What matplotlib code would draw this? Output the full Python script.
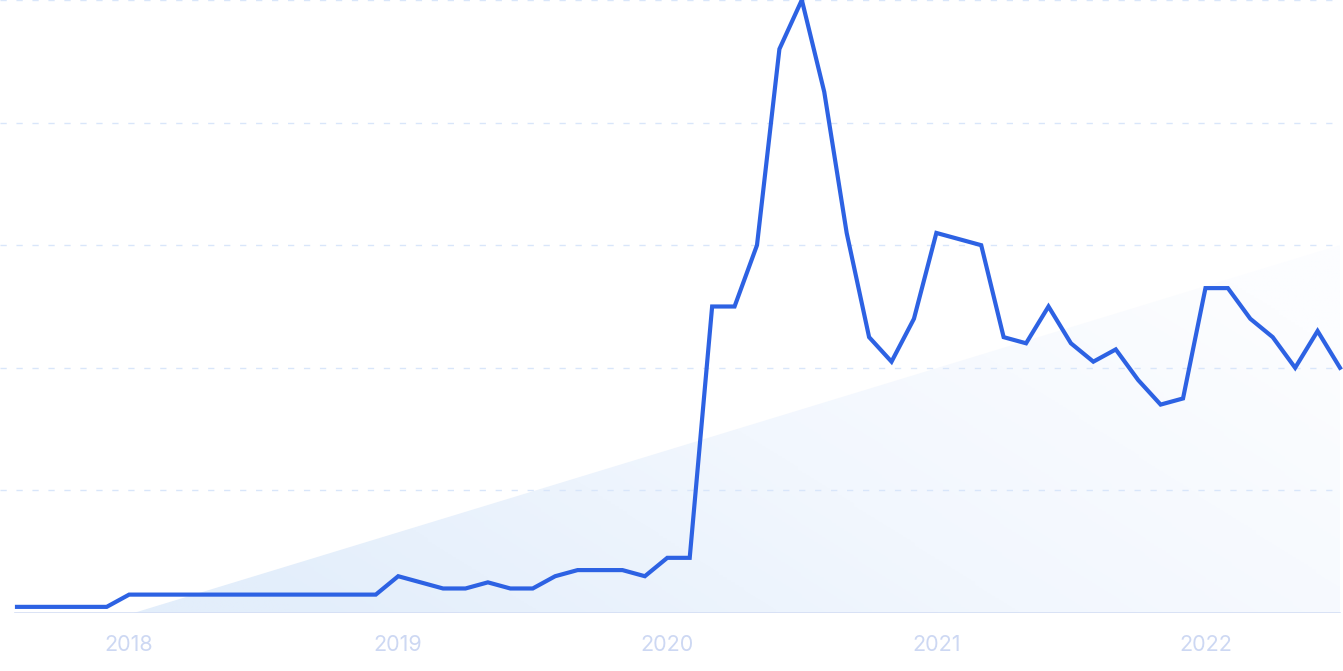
import numpy as np
import matplotlib
matplotlib.use("Agg")
import matplotlib.pyplot as plt
from matplotlib.colors import LinearSegmentedColormap
from matplotlib.patches import Polygon

# Interés mensual (0-100), de ago 2017 a jul 2022
valores = [1, 1, 1, 1, 1,
           3, 3, 3, 3, 3, 3, 3, 3, 3, 3, 3, 3,
           6, 5, 4, 4, 5, 4, 4, 6, 7, 7, 7, 6,
           9, 9, 50, 50, 60, 92, 100, 85, 62, 45, 41, 48,
           62, 61, 60, 45, 44, 50, 44, 41, 43, 38, 34, 35,
           53, 53, 48, 45, 40, 46, 40]
anios = ["2018", "2019", "2020", "2021", "2022"]
pos_anios = [5, 17, 29, 41, 53]   # índice del mes de enero
grid_y = [20, 40, 60, 80, 100]

# tendencia (triángulo de fondo)
tend_x = [5.2, 59]
tend_y = [0, 60]

AZUL = "#2d62e3"
GRIS_TXT = "#cdd8f3"
GRID = "#d9e6fa"

fig = plt.figure(figsize=(13.43, 6.71), dpi=100)
ax = fig.add_axes([0, 58 / 671, 1, 613 / 671])
x = np.arange(len(valores))
x0 = -17 / 22.42
ax.set_xlim(x0, 59 + 3 / 22.42)
ax.set_ylim(0, 100)

# relleno degradado de la tendencia
cmap = LinearSegmentedColormap.from_list("tend", ["#e3eefb", "#f2f7fe", "#fcfdff"])
xx, yy = np.meshgrid(np.linspace(0, 1, 300), np.linspace(0, 1, 150))
grad = 0.75 * xx + 0.35 * (1 - yy)
tri = Polygon([(tend_x[0], tend_y[0]), (tend_x[1], tend_y[1]), (tend_x[1], 0)],
              closed=True, facecolor="none", edgecolor="none")
ax.add_patch(tri)
im = ax.imshow(grad, cmap=cmap, extent=[tend_x[0], tend_x[1], 0, tend_y[1]],
               origin="upper", aspect="auto", zorder=1, vmin=0.1, vmax=1.0)
im.set_clip_path(tri)

for g in grid_y:
    ax.plot([x0, 59], [g, g], color=GRID, lw=1, ls=(0, (4.5, 7)), zorder=2)
ax.plot([-0.1, 59], [0, 0], color="#d4def4", lw=1.2, zorder=2)

ax.plot(x, valores, color=AZUL, lw=3, zorder=3, solid_joinstyle="miter")

ax.set_xticks(pos_anios)
ax.set_xticklabels(anios, fontsize=15.5, color=GRIS_TXT, family="Inter")
ax.tick_params(axis="x", length=0, pad=16)
ax.set_yticks([])
for s in ax.spines.values():
    s.set_visible(False)
ax.set_facecolor("white")

fig.savefig("out.png", dpi=100, facecolor="white")
